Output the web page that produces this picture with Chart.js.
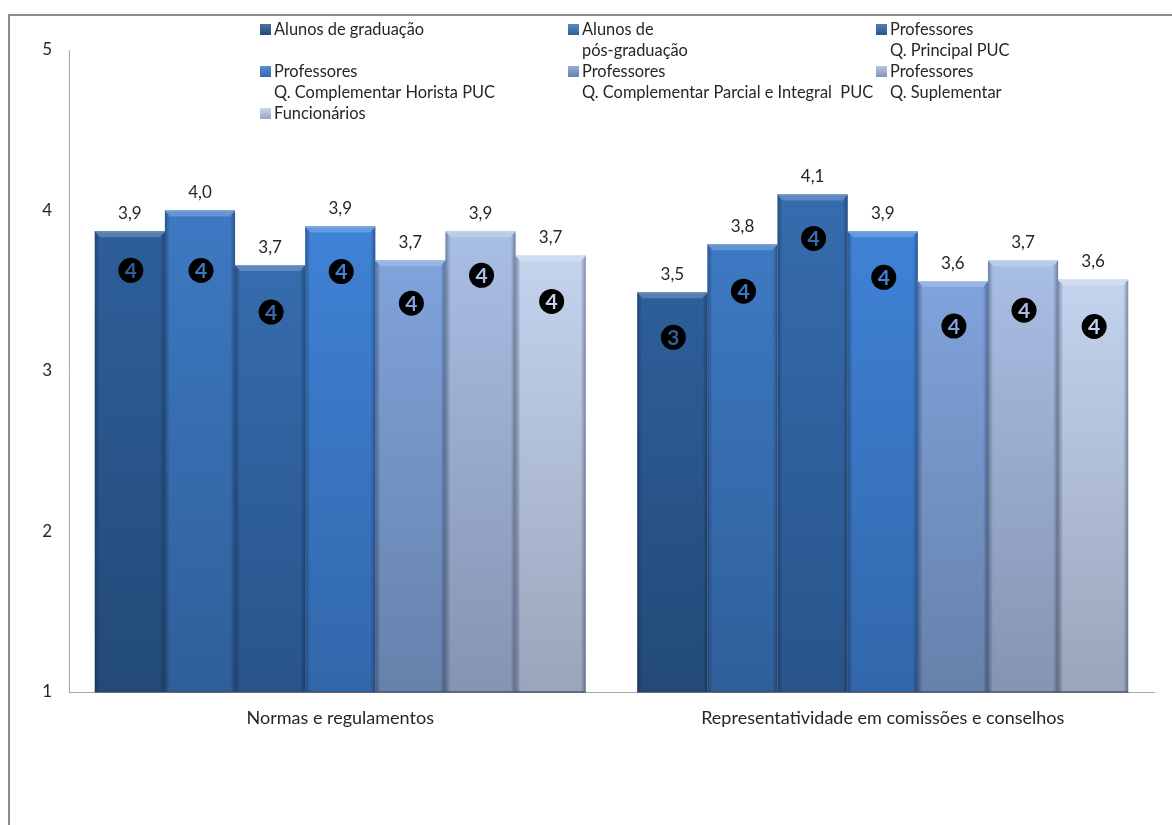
<!DOCTYPE html>
<html lang="pt-BR">
<head>
<meta charset="utf-8">
<title>Normas e representatividade</title>
<script src="https://cdn.jsdelivr.net/npm/chart.js@4"></script>
<style>
    html, body { margin: 0; padding: 0; background: #fff; overflow: hidden; }
    canvas { display: block; }
</style>
</head>
<body>
<canvas id="notasChart" width="1172" height="825"></canvas>
<script>
// Dados do gráfico
const categories = ['Normas e regulamentos', 'Representatividade em comissões e conselhos'];
const yTicks = [1, 2, 3, 4, 5];

const alunosGraduacao = [3.87, 3.49];
const alunosPos = [4.00, 3.79];
const profPrincipal = [3.66, 4.10];
const profHorista = [3.90, 3.87];
const profParcial = [3.69, 3.56];
const profSuplementar = [3.87, 3.69];
const funcionarios = [3.72, 3.57];

const seriesLabels = [
    ['Alunos de graduação'],
    ['Alunos de', 'pós-graduação'],
    ['Professores', 'Q. Principal PUC'],
    ['Professores', 'Q. Complementar Horista PUC'],
    ['Professores', 'Q. Complementar Parcial e Integral  PUC'],
    ['Professores', 'Q. Suplementar'],
    ['Funcionários']
];

// Cores de cada série: topo e base da barra
const barColors = [
    ['#2e5f9b', '#234a78'],
    ['#3d79c3', '#2f5f99'],
    ['#366cae', '#28548a'],
    ['#3f82d6', '#3267aa'],
    ['#80a3dc', '#6681ab'],
    ['#a9bee5', '#8594b1'],
    ['#c4d3ee', '#99a5ba']
];

const FONT = 'Lato, Carlito, "Open Sans", sans-serif';
const TEXT_COLOR = '#262626';
const AXIS_COLOR = '#a6a6a6';

// Distância do círculo até o topo de cada barra, por grupo
const badgeDrop = [
    [39, 60, 47, 45, 43, 44, 46],
    [45, 47, 44, 46, 45, 50, 47]
];

function decimalLabel(value) {
    return value.toFixed(1).replace('.', ',');
}

function barGradient(context) {
    const colors = barColors[context.datasetIndex];
    const chart = context.chart;
    if (!chart.chartArea || !context.parsed) return colors[0];
    const top = chart.scales.y.getPixelForValue(context.parsed.y);
    const gradient = chart.ctx.createLinearGradient(0, top, 0, chart.chartArea.bottom);
    gradient.addColorStop(0, colors[0]);
    gradient.addColorStop(1, colors[1]);
    return gradient;
}

// Clareia uma cor hexadecimal misturando com branco
function lighten(hex, amount) {
    const n = parseInt(hex.slice(1), 16);
    const mix = c => Math.round(c + (255 - c) * amount);
    return `rgb(${mix(n >> 16)}, ${mix((n >> 8) & 255)}, ${mix(n & 255)})`;
}

// Moldura à esquerda e no topo
const framePlugin = {
    id: 'frame',
    beforeDraw(chart) {
        const ctx = chart.ctx;
        ctx.save();
        ctx.strokeStyle = '#8c8c8c';
        ctx.lineWidth = 2;
        ctx.beginPath();
        ctx.moveTo(9, 825);
        ctx.lineTo(9, 15);
        ctx.lineTo(1172, 15);
        ctx.stroke();
        ctx.restore();
    }
};

// Chanfro das barras: faixa clara no topo e sombra nas laterais
const bevelPlugin = {
    id: 'bevel',
    afterDatasetsDraw(chart) {
        const ctx = chart.ctx;
        const bottom = chart.chartArea.bottom;
        chart.data.datasets.forEach((dataset, i) => {
            chart.getDatasetMeta(i).data.forEach(bar => {
                const left = bar.x - bar.width / 2;
                const right = bar.x + bar.width / 2;
                const top = bar.y;
                const colors = barColors[i];
                const edge = 5;

                ctx.save();
                let shade = ctx.createLinearGradient(left, 0, left + edge, 0);
                shade.addColorStop(0, 'rgba(10, 25, 50, 0.38)');
                shade.addColorStop(1, 'rgba(10, 25, 50, 0)');
                ctx.fillStyle = shade;
                ctx.fillRect(left, top, edge, bottom - top);

                shade = ctx.createLinearGradient(right - edge, 0, right, 0);
                shade.addColorStop(0, 'rgba(10, 25, 50, 0)');
                shade.addColorStop(1, 'rgba(10, 25, 50, 0.38)');
                ctx.fillStyle = shade;
                ctx.fillRect(right - edge, top, edge, bottom - top);

                ctx.fillStyle = lighten(colors[0], 0.2);
                ctx.beginPath();
                ctx.moveTo(left, top);
                ctx.lineTo(right, top);
                ctx.lineTo(right - edge, top + 6);
                ctx.lineTo(left + edge, top + 6);
                ctx.closePath();
                ctx.fill();

                ctx.fillStyle = lighten(colors[0], 0.35);
                ctx.fillRect(left, top, bar.width, 1);

                ctx.fillStyle = 'rgba(60, 70, 90, 0.6)';
                ctx.fillRect(left, bottom - 1, bar.width, 2);
                ctx.restore();
            });
        });
    }
};

// Rótulo com a média acima da barra e círculo com o valor arredondado
const labelsPlugin = {
    id: 'barLabels',
    afterDatasetsDraw(chart) {
        const ctx = chart.ctx;
        chart.data.datasets.forEach((dataset, i) => {
            chart.getDatasetMeta(i).data.forEach((bar, j) => {
                const value = dataset.data[j];
                ctx.save();
                ctx.textAlign = 'center';
                ctx.textBaseline = 'middle';

                ctx.fillStyle = TEXT_COLOR;
                ctx.font = `17px ${FONT}`;
                ctx.fillText(decimalLabel(value), bar.x, bar.y - 18);

                const cy = bar.y + badgeDrop[j][i];
                ctx.fillStyle = '#000';
                ctx.beginPath();
                ctx.arc(bar.x + 1, cy, 12.5, 0, Math.PI * 2);
                ctx.fill();

                ctx.fillStyle = barColors[i][0];
                ctx.font = `bold 21px ${FONT}`;
                ctx.fillText(String(Math.round(value)), bar.x + 1, cy + 1);
                ctx.restore();
            });
        });
    }
};

// Legenda em três colunas, com rótulos de duas linhas
const legendPlugin = {
    id: 'gridLegend',
    afterDraw(chart) {
        const ctx = chart.ctx;
        const columns = [260, 568, 876];
        const rows = [29, 71, 113];
        const lineHeight = 21;

        chart.data.datasets.forEach((dataset, i) => {
            const x = columns[i % 3];
            const y = rows[Math.floor(i / 3)];
            const colors = barColors[i];

            ctx.save();
            const gradient = ctx.createLinearGradient(0, y - 5, 0, y + 6);
            gradient.addColorStop(0, lighten(colors[0], 0.12));
            gradient.addColorStop(1, colors[1]);
            ctx.fillStyle = gradient;
            ctx.fillRect(x, y - 5, 11, 11);

            ctx.fillStyle = TEXT_COLOR;
            ctx.font = `16.4px ${FONT}`;
            ctx.textAlign = 'left';
            ctx.textBaseline = 'middle';
            dataset.label.forEach((line, n) => {
                ctx.fillText(line, x + 14, y + 1 + n * lineHeight);
            });
            ctx.restore();
        });
    }
};

const seriesValues = [alunosGraduacao, alunosPos, profPrincipal, profHorista, profParcial, profSuplementar, funcionarios];

new Chart(document.getElementById('notasChart').getContext('2d'), {
    type: 'bar',
    data: {
        labels: categories,
        datasets: seriesValues.map((values, index) => ({
            label: seriesLabels[index],
            data: values,
            backgroundColor: barGradient,
            borderWidth: 0,
            categoryPercentage: 0.905,
            barPercentage: 1
        }))
    },
    options: {
        responsive: false,
        animation: false,
        layout: { padding: { top: 50, right: 18, left: 0, bottom: 0 } },
        plugins: {
            legend: { display: false },
            title: { display: false },
            tooltip: { enabled: false }
        },
        scales: {
            x: {
                grid: { display: false, drawTicks: false },
                border: { color: AXIS_COLOR, width: 1 },
                ticks: {
                    color: TEXT_COLOR,
                    padding: 15,
                    maxRotation: 0,
                    font: { family: FONT, size: 18 }
                },
                afterFit(scale) { scale.height = 133; }
            },
            y: {
                min: yTicks[0],
                max: yTicks[yTicks.length - 1],
                afterBuildTicks(scale) { scale.ticks = yTicks.map(value => ({ value })); },
                grid: { display: false, drawTicks: false },
                border: { color: AXIS_COLOR, width: 1 },
                ticks: {
                    color: TEXT_COLOR,
                    padding: 17,
                    font: { family: FONT, size: 17 }
                },
                afterFit(scale) { scale.width = 69; }
            }
        }
    },
    plugins: [framePlugin, bevelPlugin, labelsPlugin, legendPlugin]
});
</script>
</body>
</html>
